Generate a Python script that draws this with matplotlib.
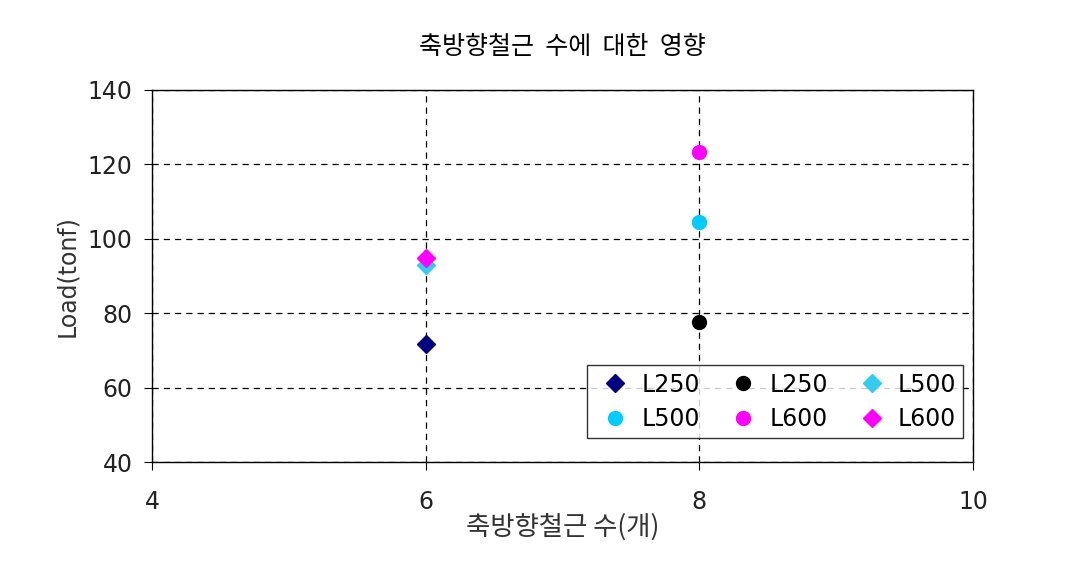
import numpy as np
import matplotlib.pyplot as plt

plt.rcParams['font.family'] = ['DejaVu Sans', 'Noto Sans CJK KR']

# 축방향철근 수 vs Load
labels = ['L250', 'L250', 'L500', 'L500', 'L600', 'L600']
x_vals = [6, 8, 6, 8, 8, 6]
y_vals = [71.7, 77.6, 93.0, 104.5, 123.3, 94.8]
markers = ['D', 'o', 'D', 'o', 'o', 'D']
colors = ['#000080', '#000000', '#33CCEE', '#00CCFF', '#FF00FF', '#FF00FF']

x_ticks = [4, 6, 8, 10]
y_ticks = [40, 60, 80, 100, 120, 140]

fig = plt.figure(figsize=(10.9, 5.66), dpi=100)
ax = fig.add_axes([0.1394, 0.1837, 0.7533, 0.6573])

handles = []
for lab, xv, yv, m, c in zip(labels, x_vals, y_vals, markers, colors):
    ms = 9 if m == 'D' else 10
    h, = ax.plot([xv], [yv], linestyle='none', marker=m, color=c, markersize=ms, label=lab)
    handles.append(h)

ax.set_xlim(4, 10)
ax.set_ylim(40, 140)
ax.set_xticks(x_ticks)
ax.set_yticks(y_ticks)
ax.grid(True, color='black', linestyle=(0, (5, 4)), linewidth=0.9)
ax.set_axisbelow(True)
for s in ax.spines.values():
    s.set_linewidth(1.0)
ax.tick_params(direction='out', length=6, labelsize=17, colors='black')
ax.tick_params(axis='x', pad=14)
ax.tick_params(axis='y', pad=8)
for t in ax.get_xticklabels() + ax.get_yticklabels():
    t.set_color('#222222')

kr = ['Noto Sans CJK KR', 'DejaVu Sans']
ax.set_title('축방향철근  수에  대한  영향', fontsize=18, pad=26, family=kr)
ax.set_xlabel('축방향철근 수(개)', fontsize=19, color='#333333', labelpad=0, family=kr)
ax.set_ylabel('Load(tonf)', fontsize=17, color='#333333', labelpad=6)

# legend filled row by row like the original
order = [0, 3, 1, 4, 2, 5]
leg = ax.legend([handles[i] for i in order], [labels[i] for i in order],
                ncol=3, loc='lower right', bbox_to_anchor=(0.988, 0.064),
                fontsize=17, frameon=True, fancybox=False, edgecolor='black',
                borderpad=0.3, handletextpad=0.2, columnspacing=0.95,
                labelspacing=0.45, handlelength=1.8, borderaxespad=0)
leg.get_frame().set_linewidth(1.0)

fig.savefig('out.png', dpi=100, facecolor='white')
